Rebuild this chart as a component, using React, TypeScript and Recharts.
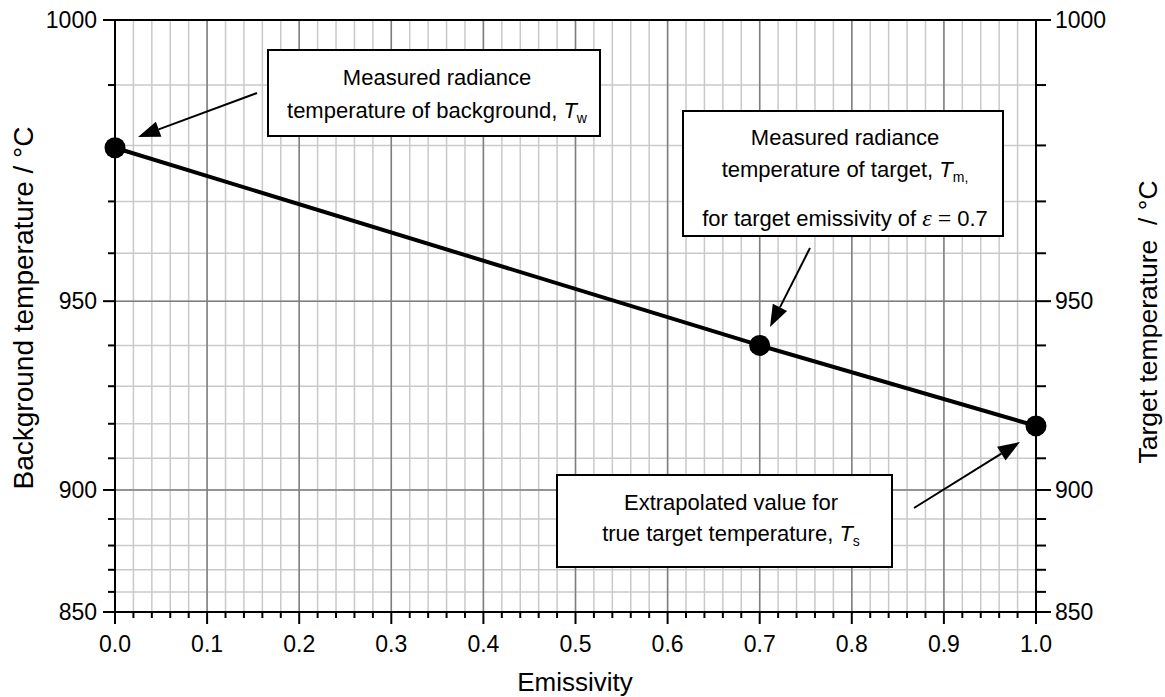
import { LineChart, Line, XAxis, YAxis, CartesianGrid, ReferenceLine } from 'recharts'

// Wien radiance at 1 µm, so the temperature axis is a radiance scale
const C2 = 14388
const LAMBDA = 1.0
const rad = (t: number) => 1e6 * Math.exp(-C2 / (LAMBDA * (t + 273.15)))
const unrad = (r: number) => C2 / (LAMBDA * -Math.log(r / 1e6)) - 273.15

const emissivity = [0, 0.7, 1.0]
const temperature = [979.6, 940.0, 919.4] // Tw, Tm, Ts in °C

const xMajorTicks = [0, 0.1, 0.2, 0.3, 0.4, 0.5, 0.6, 0.7, 0.8, 0.9, 1.0]
const yMajorTicks = [850, 900, 950, 1000]

// minor ticks: every 0.02 on x, every 10 °C on y
const xMinorTicks = Array.from({ length: 51 }, (_, i) => (i * 2) / 100)
const yMinorTicks = Array.from({ length: 16 }, (_, i) => 850 + i * 10)

const data = emissivity.map((e, i) => ({ e, r: rad(temperature[i]) }))
const yDomain = [rad(850), rad(1000)]

const FONT = '"Liberation Sans", Arial, sans-serif'
const SERIF = '"Liberation Serif", "Times New Roman", serif'

const XTick = (props: any) => {
    const { x, y, payload } = props
    const v = payload.value
    const major = Math.abs(v * 10 - Math.round(v * 10)) < 1e-6
    return (
        <g>
            <line x1={x} x2={x} y1={y} y2={y + (major ? 12 : 6)} stroke="#000" strokeWidth={2} />
            {major && (
                <text x={x} y={y + 40} textAnchor="middle" fontSize={23} fontFamily={FONT} fill="#000">
                    {v.toFixed(1)}
                </text>
            )}
        </g>
    )
}

const YTick = (props: any) => {
    const { x, y, payload, side } = props
    const t = Math.round(unrad(payload.value))
    const major = t % 50 === 0
    const dir = side === 'right' ? 1 : -1
    const len = major ? (side === 'right' ? 15 : 12) : (side === 'right' ? 10 : 7)
    return (
        <g>
            <line x1={x} x2={x + dir * len} y1={y} y2={y} stroke="#000" strokeWidth={2} />
            {major && (
                <text
                    x={side === 'right' ? x + 19 : x - 18}
                    y={y}
                    dy="0.36em"
                    textAnchor={side === 'right' ? 'start' : 'end'}
                    fontSize={23}
                    fontFamily={FONT}
                    fill="#000"
                >
                    {t}
                </text>
            )}
        </g>
    )
}

const Arrow = ({ x1, y1, x2, y2 }: { x1: number; y1: number; x2: number; y2: number }) => {
    const d = Math.hypot(x2 - x1, y2 - y1)
    const ux = (x2 - x1) / d
    const uy = (y2 - y1) / d
    const L = 22
    const W = 8
    const bx = x2 - ux * L
    const by = y2 - uy * L
    return (
        <g>
            <line x1={x1} y1={y1} x2={bx} y2={by} stroke="#000" strokeWidth={2} />
            <polygon
                points={`${x2},${y2} ${bx - uy * W},${by + ux * W} ${bx + uy * W},${by - ux * W}`}
                fill="#000"
            />
        </g>
    )
}

const Sub = ({ children }: { children: any }) => (
    <>
        <tspan dy={5} fontSize={14}>{children}</tspan>
        <tspan dy={-5}></tspan>
    </>
)

const Annotations = () => (
    <svg width={1165} height={697} style={{ position: 'absolute', left: 0, top: 0, pointerEvents: 'none' }}>
        <g fontFamily={FONT} fontSize={22} fill="#000">
            {/* background */}
            <rect x={268} y={50} width={332} height={86} fill="#fff" stroke="#000" strokeWidth={2} />
            <text x={437} y={85} textAnchor="middle">Measured radiance</text>
            <text x={437} y={118} textAnchor="middle">
                temperature of background, <tspan fontStyle="italic">T</tspan>
                <Sub>w</Sub>
            </text>
            <Arrow x1={257} y1={93} x2={138} y2={137} />

            {/* target */}
            <rect x={683} y={111} width={320} height={125} fill="#fff" stroke="#000" strokeWidth={2} />
            <text x={845} y={145} textAnchor="middle">Measured radiance</text>
            <text x={845} y={177} textAnchor="middle">
                temperature of target, <tspan fontStyle="italic">T</tspan>
                <Sub>m,</Sub>
            </text>
            <text x={845} y={226} textAnchor="middle">
                for target emissivity of <tspan fontFamily={SERIF} fontStyle="italic" fontSize={24}>ε</tspan>
                <tspan fontFamily={SERIF} fontSize={24}> = </tspan>0.7
            </text>
            <Arrow x1={810} y1={248} x2={770} y2={327} />

            {/* extrapolated */}
            <rect x={557} y={475} width={335} height={92} fill="#fff" stroke="#000" strokeWidth={2} />
            <text x={731} y={510} textAnchor="middle">Extrapolated value for</text>
            <text x={731} y={541} textAnchor="middle">
                true target temperature, <tspan fontStyle="italic">T</tspan>
                <Sub>s</Sub>
            </text>
            <Arrow x1={914} y1={508} x2={1020} y2={442} />
        </g>
        <g fontFamily={FONT} fill="#000">
            <text x={575} y={691} textAnchor="middle" fontSize={26}>Emissivity</text>
            <text transform="translate(33,308) rotate(-90)" textAnchor="middle" fontSize={28}>
                Background temperature / °C
            </text>
            <text
                transform="translate(1157,322) rotate(-90)"
                textAnchor="middle"
                fontSize={26.5}
                style={{ whiteSpace: 'pre' }}
            >
                {'Target temperature  / °C'}
            </text>
        </g>
    </svg>
)

export default function App() {
    return (
        <div style={{ position: 'absolute', left: 0, top: 0, width: 1165, height: 697, background: '#fff' }}>
            <LineChart width={1165} height={697} data={data} margin={{ top: 20, right: 0, bottom: 0, left: 0 }}>
                <CartesianGrid yAxisId="left" stroke="#c9c9c9" strokeWidth={1.5} />
                {xMajorTicks.map((v) => (
                    <ReferenceLine key={`gx${v}`} x={v} yAxisId="left" stroke="#7f7f7f" strokeWidth={1.5} />
                ))}
                {yMajorTicks.map((v) => (
                    <ReferenceLine key={`gy${v}`} y={rad(v)} yAxisId="left" stroke="#7f7f7f" strokeWidth={1.5} />
                ))}
                <ReferenceLine yAxisId="left" y={rad(1000)} stroke="#000" strokeWidth={2} />
                <XAxis
                    dataKey="e"
                    type="number"
                    domain={[0, 1]}
                    ticks={xMinorTicks}
                    interval={0}
                    height={85}
                    tickSize={0}
                    tickMargin={0}
                    tickLine={false}
                    axisLine={{ stroke: '#000', strokeWidth: 2 }}
                    tick={<XTick />}
                />
                <YAxis
                    yAxisId="left"
                    type="number"
                    domain={yDomain}
                    ticks={yMinorTicks.map(rad)}
                    interval={0}
                    width={115}
                    tickSize={0}
                    tickMargin={0}
                    tickLine={false}
                    axisLine={{ stroke: '#000', strokeWidth: 2 }}
                    tick={<YTick side="left" />}
                />
                <YAxis
                    yAxisId="right"
                    orientation="right"
                    type="number"
                    domain={yDomain}
                    ticks={yMinorTicks.map(rad)}
                    interval={0}
                    width={129}
                    tickSize={0}
                    tickMargin={0}
                    tickLine={false}
                    allowDataOverflow
                    axisLine={{ stroke: '#000', strokeWidth: 2 }}
                    tick={<YTick side="right" />}
                />
                <Line
                    yAxisId="left"
                    dataKey="r"
                    type="linear"
                    stroke="#000"
                    strokeWidth={4}
                    dot={{ r: 10.5, fill: '#000', stroke: '#000', strokeWidth: 0 }}
                    activeDot={false}
                    isAnimationActive={false}
                />
            </LineChart>
            <Annotations />
        </div>
    )
}
